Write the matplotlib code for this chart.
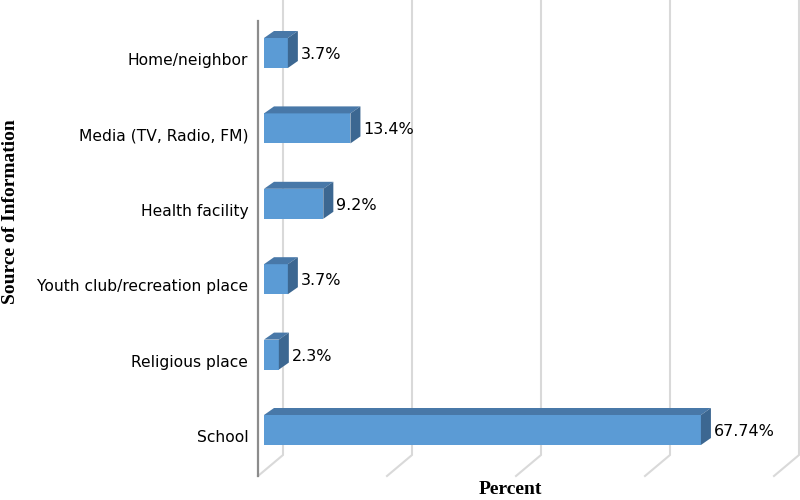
import matplotlib.pyplot as plt
from matplotlib.patches import Polygon

sources = ['School', 'Religious place', 'Youth club/recreation place',
           'Health facility', 'Media (TV, Radio, FM)', 'Home/neighbor']
percent = [67.74, 2.3, 3.7, 9.2, 13.4, 3.7]
value_labels = ['67.74%', '2.3%', '3.7%', '9.2%', '13.4%', '3.7%']
grid_ticks = [0, 20, 40, 60, 80]

# pixel scale of the reference, used to turn 3D offsets into data units
PX_X = 6.45    # pixels per percent
PX_Y = 75.4    # pixels per category

front_col = '#5B9BD5'
top_col = '#4878A8'
side_col = '#3C6791'
grid_col = '#D9D9D9'

fig = plt.figure(figsize=(8, 5), dpi=100)
# axes from x=258px to 800px, y=0px to 480px
ax = fig.add_axes([258 / 800, 20 / 500, 542 / 800, 480 / 500])
ax.set_xlim(-6 / PX_X, 536 / PX_X)
ax.set_ylim(-50 / PX_Y, 430 / PX_Y)

for s in ['top', 'right', 'bottom']:
    ax.spines[s].set_visible(False)
ax.spines['left'].set_color('#8C8C8C')
ax.spines['left'].set_linewidth(1.6)
ax.spines['left'].set_bounds(-46 / PX_Y, 409 / PX_Y)
ax.set_xticks([])

# back wall + floor gridlines
wall_dx = 19 / PX_X
floor_dx = -6 / PX_X
y_top = 430 / PX_Y
y_back = -25 / PX_Y
y_front = -46 / PX_Y
for g in grid_ticks:
    ax.plot([g + wall_dx, g + wall_dx, g + floor_dx],
            [y_top, y_back, y_front], color=grid_col, lw=1.5,
            zorder=1, clip_on=False, solid_joinstyle='miter')

# 3D bars
h = 15 / PX_Y
ddx = 10 / PX_X
ddy = 7 / PX_Y
for i, (v, lab) in enumerate(zip(percent, value_labels)):
    lo, hi = i - h, i + h
    front = Polygon([(0, lo), (v, lo), (v, hi), (0, hi)], closed=True,
                    facecolor=front_col, edgecolor='none', zorder=3)
    top = Polygon([(0, hi), (v, hi), (v + ddx, hi + ddy), (ddx, hi + ddy)],
                  closed=True, facecolor=top_col, edgecolor='none', zorder=3)
    side = Polygon([(v, lo), (v + ddx, lo + ddy), (v + ddx, hi + ddy), (v, hi)],
                   closed=True, facecolor=side_col, edgecolor='none', zorder=3)
    for p in (front, top, side):
        ax.add_patch(p)
    ax.text(v + 13 / PX_X, i - 1.5 / PX_Y, lab, ha='left', va='center',
            fontsize=11.5, color='black', zorder=4)

ax.set_yticks([i - 6 / PX_Y for i in range(len(sources))])
ax.set_yticklabels(sources, fontsize=11.2, color='black')
ax.tick_params(axis='y', length=0, pad=7)

fig.text(11 / 800, 1 - 212 / 500, 'Source of Information', rotation=90,
         ha='center', va='center', fontsize=14, fontweight='bold',
         fontfamily='Liberation Serif')
ax.set_xlabel('Percent', fontsize=14, fontweight='bold',
              fontfamily='Liberation Serif')
ax.xaxis.set_label_coords((510 - 258) / 542, (480 - 481) / 480)

fig.savefig('out.png', dpi=100)
